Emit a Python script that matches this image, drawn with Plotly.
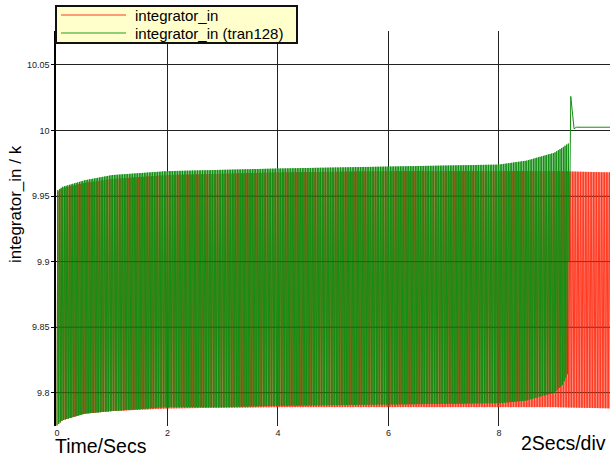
import numpy as np
import plotly.graph_objects as go

# ---- data ----
# envelope sample times (s) and envelope values of the oscillating signal
env_t_red = [0.0, 0.1, 0.5, 1.0, 2.0, 4.0, 6.0, 8.0, 9.0, 10.05]
red_upper = [9.953, 9.956, 9.960, 9.963, 9.966, 9.968, 9.969, 9.969, 9.969, 9.968]
red_lower = [9.775, 9.779, 9.784, 9.786, 9.788, 9.789, 9.789, 9.789, 9.789, 9.788]

env_t_green = [0.0, 0.1, 0.5, 1.0, 2.0, 3.0, 4.0, 6.0, 8.0, 8.5, 9.0, 9.15, 9.25]
green_upper = [9.954, 9.957, 9.962, 9.966, 9.969, 9.970, 9.971, 9.9725, 9.974, 9.977, 9.983, 9.987, 9.990]
green_lower = [9.775, 9.779, 9.784, 9.786, 9.789, 9.789, 9.790, 9.791, 9.792, 9.794, 9.800, 9.806, 9.815]

# green settling tail after the oscillation stops
green_tail_t = [9.27, 9.30, 9.36, 9.40, 10.05]
green_tail_v = [9.900, 10.026, 10.0013, 10.0025, 10.0025]

red_period = 0.0292
green_period = 0.0301

x_ticks = [0, 2, 4, 6, 8]
y_ticks = [9.8, 9.85, 9.9, 9.95, 10.0, 10.05]
y_tick_text = ["9.8", "9.85", "9.9", "9.95", "10", "10.05"]

series_names = ["integrator_in", "integrator_in (tran128)"]
RED = "#ff3a22"
GREEN = "#138f13"


def zigzag(t_env, up, lo, period, t_end):
    starts = np.arange(0.0, t_end, period)
    xs, ys = [], []
    for s in starts:
        m = s + period / 2
        xs += [s, m]
        ys += [np.interp(s, t_env, lo), np.interp(m, t_env, up)]
    return xs, ys


rx, ry = zigzag(env_t_red, red_upper, red_lower, red_period, 10.05)
gx, gy = zigzag(env_t_green, green_upper, green_lower, green_period, 9.26)
gx += green_tail_t
gy += green_tail_v

fig = go.Figure()
fig.add_trace(go.Scatter(x=rx, y=ry, mode="lines", line=dict(color=RED, width=1),
                         name=series_names[0], showlegend=False))
fig.add_trace(go.Scatter(x=gx, y=gy, mode="lines", line=dict(color=GREEN, width=1),
                         name=series_names[1], showlegend=False))

W, H = 610, 460
L, R, T, B = 56, 0, 31, 34
pw, ph = W - L - R, H - T - B


def px(x):
    return (x - L) / pw


def py(y):
    return (H - B - y) / ph


shapes = []
# faint horizontal grid visible through the data
for v in y_ticks[:4]:
    shapes.append(dict(type="line", xref="paper", yref="y", x0=0, x1=1, y0=v, y1=v,
                       line=dict(color="#000000", width=1), opacity=0.25, layer="above"))
# legend box
shapes.append(dict(type="rect", xref="paper", yref="paper", x0=px(56), x1=px(297),
                   y0=py(43), y1=py(6), fillcolor="#ffffcc",
                   line=dict(color="#111111", width=2), layer="above"))
shapes.append(dict(type="line", xref="paper", yref="paper", x0=px(61), x1=px(126),
                   y0=py(15), y1=py(15), line=dict(color=RED, width=1.2), layer="above"))
shapes.append(dict(type="line", xref="paper", yref="paper", x0=px(61), x1=px(126),
                   y0=py(33), y1=py(33), line=dict(color="#22a022", width=1.2), layer="above"))

font_family = "Liberation Sans, Arial, sans-serif"
annotations = [
    dict(text=series_names[0], xref="paper", yref="paper", x=px(133), y=py(15),
         xanchor="left", yanchor="middle", showarrow=False,
         font=dict(size=15, color="#000", family=font_family)),
    dict(text=series_names[1], xref="paper", yref="paper", x=px(133), y=py(33),
         xanchor="left", yanchor="middle", showarrow=False,
         font=dict(size=15, color="#000", family=font_family)),
    dict(text="integrator_in / k", xref="paper", yref="paper", x=px(15), y=py(204),
         xanchor="center", yanchor="middle", textangle=-90, showarrow=False,
         font=dict(size=17, color="#000", family=font_family)),
    dict(text="Time/Secs", xref="paper", yref="paper", x=px(53), y=py(446),
         xanchor="left", yanchor="middle", showarrow=False,
         font=dict(size=19.5, color="#000", family=font_family)),
    dict(text="2Secs/div", xref="paper", yref="paper", x=px(519), y=py(443),
         xanchor="left", yanchor="middle", showarrow=False,
         font=dict(size=19.5, color="#000", family=font_family)),
]

fig.update_layout(
    width=W, height=H,
    margin=dict(l=L, r=R, t=T, b=B, pad=0),
    paper_bgcolor="white", plot_bgcolor="white",
    showlegend=False,
    shapes=shapes, annotations=annotations,
    font=dict(family=font_family),
    xaxis=dict(range=[-0.018, 10.01], tickvals=x_ticks, ticktext=[str(v) for v in x_ticks],
               showgrid=True, gridcolor="#222222", gridwidth=1, zeroline=False,
               showline=False, ticks="", ticklabelstandoff=0,
               tickfont=dict(size=9, color="#222")),
    yaxis=dict(range=[9.7746, 10.0759], tickvals=y_ticks, ticktext=y_tick_text,
               showgrid=True, gridcolor="#222222", gridwidth=1, zeroline=False,
               showline=True, linecolor="#000", linewidth=1.5, mirror=False,
               ticks="outside", ticklen=3, tickcolor="#000",
               tickfont=dict(size=9, color="#222")),
)

fig.write_html("out.html", config={"displayModeBar": False},
               post_script="document.body.style.margin='0';document.body.style.overflow='hidden';")
